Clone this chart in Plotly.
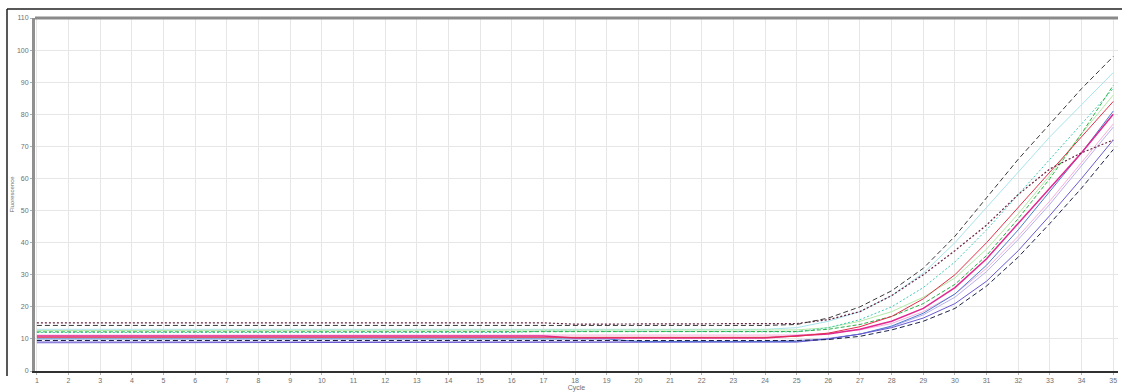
import plotly.graph_objects as go

cycles = list(range(1, 36))

def flat(v, n):
    return [v] * n

# Fluorescence values per sample (cycles 1..35)
maroon = flat(15.0, 17) + flat(14.6, 7) + [14.8, 16.0, 18.5, 23.5, 30.0, 37.5, 45.5, 55.0, 63.0, 68.0, 72.0]
darkgray = flat(14.2, 24) + [14.5, 16.5, 20.0, 25.0, 32.0, 42.0, 54.0, 66.0, 77.0, 88.0, 98.0]
lightcyan = flat(13.0, 24) + [13.5, 15.5, 18.5, 23.5, 30.5, 40.0, 51.0, 62.0, 73.0, 83.0, 93.0]
teal = flat(12.0, 16) + flat(12.4, 8) + [12.2, 13.5, 16.0, 20.0, 26.0, 34.0, 44.0, 55.0, 66.0, 77.0, 88.0]
green = flat(12.2, 24) + [12.3, 13.0, 14.5, 17.0, 21.0, 27.0, 36.0, 47.5, 60.0, 74.0, 89.0]
lightgreen = flat(12.6, 24) + [12.8, 13.5, 15.5, 18.5, 23.0, 29.0, 38.0, 49.0, 61.0, 74.0, 86.0]
red = flat(10.5, 24) + [10.8, 11.8, 13.8, 17.0, 22.5, 30.0, 40.0, 51.0, 62.0, 73.0, 84.0]
magenta = flat(10.9, 17) + flat(10.3, 7) + [11.0, 11.5, 13.0, 15.5, 19.5, 26.0, 35.0, 46.0, 57.0, 68.0, 80.0]
pink = flat(11.2, 24) + [11.2, 11.8, 12.8, 14.8, 18.5, 24.0, 32.0, 42.0, 53.0, 65.0, 77.0]
lavender = flat(9.2, 24) + [9.5, 10.2, 11.5, 13.8, 17.5, 23.0, 31.0, 41.0, 52.0, 64.0, 76.0]
blue = flat(10.0, 19) + flat(9.2, 5) + [9.2, 10.0, 11.5, 14.0, 18.0, 24.0, 33.0, 44.0, 56.0, 68.0, 81.0]
navy = flat(9.5, 24) + [9.5, 9.8, 10.8, 12.8, 15.5, 19.5, 26.5, 35.5, 46.0, 57.0, 69.0]
violet = flat(8.8, 24) + [9.0, 10.0, 11.5, 13.5, 16.5, 21.0, 28.0, 37.5, 48.5, 60.0, 72.0]

series = [
    ("lightcyan", lightcyan, "#a8e4ec", "solid", 1),
    ("lightgreen", lightgreen, "#b4eaa8", "solid", 1),
    ("pink", pink, "#f4b0dc", "solid", 1),
    ("lavender", lavender, "#b8b0ec", "solid", 1),
    ("teal", teal, "#40c8b8", "2px,2px", 1),
    ("blue", blue, "#4a7ad0", "solid", 1),
    ("violet", violet, "#6a5ad0", "solid", 1),
    ("magenta", magenta, "#e02890", "solid", 1.5),
    ("green", green, "#2ab24a", "4px,2px", 1),
    ("red", red, "#e0304a", "solid", 1),
    ("maroon", maroon, "#6a2040", "2px,2px", 1.2),
    ("navy", navy, "#1a2448", "5px,3px", 1),
    ("darkgray", darkgray, "#3a3a3a", "5px,3px", 1),
]

fig = go.Figure()
for name, vals, color, dash, w in series:
    fig.add_trace(go.Scatter(x=cycles, y=vals, mode="lines", name=name,
                             line=dict(color=color, width=w, dash=dash),
                             showlegend=False))

L, R, T, B = 35, 4, 18, 21
W, H = 1122, 392
pw, ph = W - L - R, H - T - B

def px(xp):
    return (xp - L) / pw

def py(yp):
    return (H - B - yp) / ph

fig.update_layout(
    width=W, height=H,
    margin=dict(l=L, r=R, t=T, b=B, pad=0, autoexpand=False),
    paper_bgcolor="white", plot_bgcolor="white",
    font=dict(family="Liberation Sans, Arial", size=7, color="#707070"),
    xaxis=dict(range=[0.94, 35.15], tickmode="linear", tick0=1, dtick=1,
               automargin=False,
               showgrid=True, gridcolor="#e6e6e6", gridwidth=1,
               showline=True, linecolor="#303030", linewidth=2,
               ticks="outside", ticklen=2, tickcolor="#b0b0b0",
               zeroline=False, tickfont=dict(size=7, color="#707070"),
               title=dict(text="Cycle", font=dict(size=7, color="#707070"), standoff=0)),
    yaxis=dict(range=[0, 110], tickmode="linear", tick0=0, dtick=10,
               automargin=False,
               showgrid=True, gridcolor="#e6e6e6", gridwidth=1,
               showline=True, linecolor="#909090", linewidth=3,
               ticks="outside", ticklen=2, tickcolor="#b0b0b0",
               zeroline=False, tickfont=dict(size=7, color="#707070"),
               title=dict(text="Fluorescence", font=dict(size=6, color="#707070"), standoff=2)),
    shapes=[
        dict(type="line", xref="paper", yref="paper", x0=0, x1=1, y0=1.0, y1=1.0,
             line=dict(color="#8a8a8a", width=3)),
        dict(type="line", xref="paper", yref="paper", x0=px(7), x1=px(1122), y0=py(9), y1=py(9),
             line=dict(color="#202020", width=1.5)),
        dict(type="line", xref="paper", yref="paper", x0=px(7), x1=px(7), y0=py(9), y1=py(376),
             line=dict(color="#202020", width=1.5)),
    ],
)

fig.write_html("out.html", config={"displayModeBar": False},
               post_script="document.body.style.margin='0';document.body.style.overflow='hidden';")
